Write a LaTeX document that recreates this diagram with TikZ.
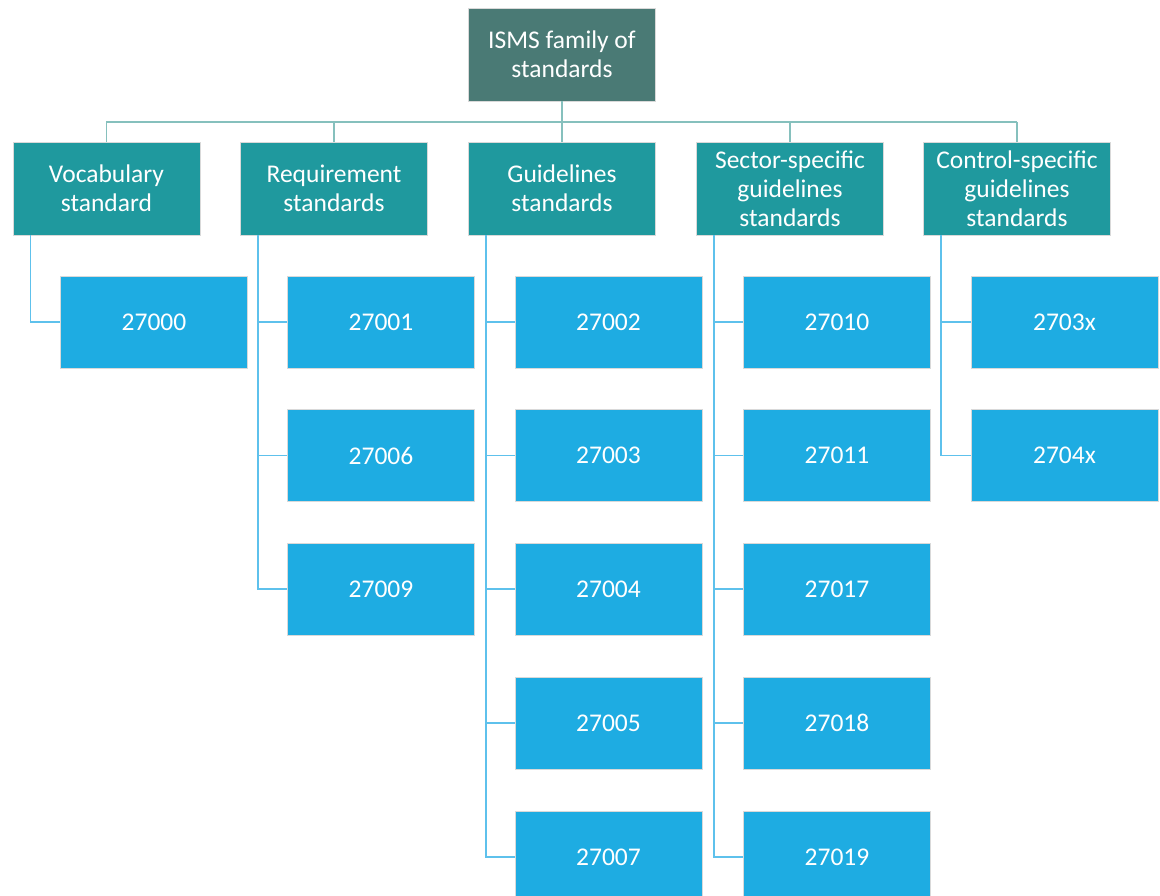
\documentclass[tikz,border=0pt]{standalone}
\usepackage{fontspec}
\setmainfont{Carlito}
\definecolor{rootfill}{HTML}{4A7A75}
\definecolor{groupfill}{HTML}{1F999E}
\definecolor{itemfill}{HTML}{1EACE2}
\definecolor{busline}{HTML}{86C0BD}
\definecolor{itemline}{HTML}{5EC1EC}
\begin{document}
\begin{tikzpicture}[x=1pt,y=-1pt,
  box/.style={draw=white!85!black, line width=0.8pt, minimum width=187pt, minimum height=93pt,
    inner sep=2pt, align=center, text=white, font=\fontsize{25.5}{29}\selectfont},
  rootbox/.style={box, fill=rootfill},
  groupbox/.style={box, fill=groupfill},
  itembox/.style={box, fill=itemfill, minimum height=92pt},
  bus/.style={draw=busline, line width=1.5pt},
  link/.style={draw=itemline, line width=1.5pt}]
\useasboundingbox (0,0) rectangle (1160,896);

% ends of the horizontal bus under the root
\coordinate (busL) at (106,122);
\coordinate (busR) at (1017,122);

% root
\node[rootbox] (root) at (562,54.5) {ISMS family of\\standards};

% groups
\node[groupbox] (g1) at (106.5,188.5) {Vocabulary\\standard};
\node[groupbox] (g2) at (334,188.5) {Requirement\\standards};
\node[groupbox] (g3) at (562,188.5) {Guidelines\\standards};
\node[groupbox] (g4) at (790,188.5) {Sector-specific\\guidelines\\standards};
\node[groupbox] (g5) at (1017,188.5) {Control-specific\\guidelines\\standards};

% items
\node[itembox] (a1) at (154,322) {27000};

\node[itembox] (b1) at (381,322) {27001};
\node[itembox] (b2) at (381,455.5) {27006};
\node[itembox] (b3) at (381,589) {27009};

\node[itembox] (c1) at (608.5,322) {27002};
\node[itembox] (c2) at (608.5,455.5) {27003};
\node[itembox] (c3) at (608.5,589) {27004};
\node[itembox] (c4) at (608.5,723) {27005};
\node[itembox] (c5) at (608.5,857) {27007};

\node[itembox] (d1) at (837,322) {27010};
\node[itembox] (d2) at (837,455.5) {27011};
\node[itembox] (d3) at (837,589) {27017};
\node[itembox] (d4) at (837,723) {27018};
\node[itembox] (d5) at (837,857) {27019};

\node[itembox] (e1) at (1064.5,322) {2703x};
\node[itembox] (e2) at (1064.5,455.5) {2704x};

% tree lines from the root to the groups
\draw[bus] (root.south) -- (root.south |- busL);
\draw[bus] (busL) -- (busR);
\foreach \g in {g1,g2,g3,g4,g5}
  \draw[bus] (\g.north |- busL) -- (\g.north);

% lines from each group to its items
\foreach \g/\items in {g1/{a1}, g2/{b1,b2,b3}, g3/{c1,c2,c3,c4,c5}, g4/{d1,d2,d3,d4,d5}, g5/{e1,e2}}{
  \coordinate (\g rail) at ([xshift=18pt]\g.south west);
  \foreach \i in \items
    \draw[link] (\g rail) |- (\i.west);
}
\end{tikzpicture}
\end{document}
